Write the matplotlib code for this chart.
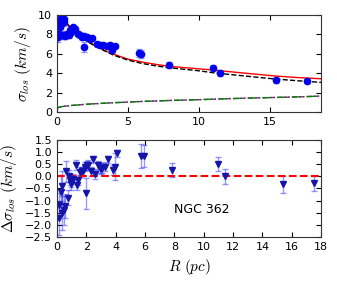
import numpy as np
import matplotlib
matplotlib.use("Agg")
import matplotlib.pyplot as plt

# observed dispersion profile (top panel)
top_r = [0.1, 0.14, 0.21, 0.21, 0.3, 0.4, 0.5, 0.52, 0.56, 0.7, 0.85, 0.92, 1.0, 1.15, 1.3,
         1.5, 1.6, 1.75, 1.92, 1.92, 2.09, 2.32, 2.5, 2.79, 3.03, 3.26, 3.5, 3.73, 3.85, 4.08,
         5.77, 5.9, 7.9, 10.96, 11.48, 15.4, 17.58]
top_s = [7.7, 8.07, 8.76, 9.62, 9.1, 7.9, 9.3, 9.62, 7.8, 8.0, 7.97, 8.4, 8.2, 8.76, 8.6,
         8.07, 7.9, 7.7, 7.83, 6.7, 7.73, 7.56, 7.6, 7.04, 6.87, 6.87, 6.77, 6.87, 6.36, 6.77,
         6.05, 6.0, 4.85, 4.57, 4.05, 3.3, 3.2]
top_e = [0.5, 0.5, 0.5, 0.4, 0.4, 0.4, 0.4, 0.35, 0.3, 0.3, 0.3, 0.3, 0.3, 0.25, 0.25,
         0.25, 0.25, 0.25, 0.25, 0.5, 0.25, 0.25, 0.25, 0.2, 0.2, 0.2, 0.2, 0.2, 0.25, 0.2,
         0.4, 0.4, 0.3, 0.3, 0.3, 0.3, 0.25]

# model curves
mod_r = [0.0, 0.15, 0.3, 0.5, 1.0, 1.5, 2.0, 2.5, 3.0, 3.5, 4.0, 5.0, 6.0, 7.0, 8.0,
         10.0, 11.0, 12.0, 14.0, 15.4, 17.0, 18.6]
red_s = [9.0, 9.4, 9.65, 9.45, 8.65, 8.0, 7.45, 7.0, 6.6, 6.25, 5.95, 5.45, 5.15, 4.9, 4.7,
         4.45, 4.33, 4.18, 3.9, 3.71, 3.55, 3.43]
blk_s = [9.0, 9.4, 9.6, 9.4, 8.6, 7.95, 7.4, 6.95, 6.55, 6.2, 5.85, 5.35, 5.0, 4.75, 4.55,
         4.25, 4.05, 3.9, 3.6, 3.4, 3.22, 3.06]
low_s = [0.38, 0.5, 0.55, 0.6, 0.68, 0.74, 0.8, 0.85, 0.89, 0.93, 0.97, 1.03, 1.1, 1.15, 1.2,
         1.28, 1.33, 1.38, 1.46, 1.51, 1.57, 1.65]

# residuals (bottom panel)
bot_r = [0.16, 0.16, 0.27, 0.36, 0.34, 0.45, 0.54, 0.59, 0.77, 0.82, 0.88, 0.95, 0.95, 1.1,
         1.29, 1.38, 1.45, 1.56, 1.7, 1.8, 1.9, 1.95, 2.05, 2.1, 2.3, 2.43, 2.6, 2.8, 2.9,
         3.0, 3.1, 3.3, 3.5, 3.8, 3.95, 4.06, 5.76, 5.9, 7.87, 10.98, 11.43, 15.4, 17.5]
bot_d = [-1.18, -1.73, -0.63, -0.4, -1.52, -1.4, -1.22, 0.2, -0.88, 0.0, -0.15, -0.33, -0.23,
         -0.1, 0.47, -0.35, -0.15, 0.19, 0.2, 0.2, 0.4, -0.7, 0.45, 0.47, 0.2, 0.7, 0.1,
         0.45, 0.35, 0.3, 0.35, 0.4, 0.7, 0.25, 0.4, 0.95, 0.84, 0.84, 0.26, 0.5, 0.0,
         -0.33, -0.29]
bot_e = [0.5, 0.7, 0.7, 0.6, 0.7, 0.6, 0.5, 0.45, 0.3, 0.25, 0.2, 0.25, 0.2, 0.2,
         0.2, 0.2, 0.2, 0.2, 0.2, 0.2, 0.2, 0.65, 0.2, 0.2, 0.2, 0.15, 0.2, 0.2, 0.2,
         0.2, 0.2, 0.2, 0.15, 0.2, 0.55, 0.15, 0.5, 0.45, 0.3, 0.3, 0.3, 0.35, 0.3]

plt.rcParams['font.size'] = 8
plt.rcParams['mathtext.fontset'] = 'cm'
plt.rcParams['xtick.direction'] = 'in'
plt.rcParams['ytick.direction'] = 'in'
plt.rcParams['xtick.top'] = True
plt.rcParams['ytick.right'] = True

fig = plt.figure(figsize=(3.37, 2.81), dpi=100)
ax1 = fig.add_axes([0.169, 0.601, 0.784, 0.346])
ax2 = fig.add_axes([0.169, 0.157, 0.784, 0.345])

ax1.errorbar(top_r, top_s, yerr=top_e, fmt='o', color='#0000ee', ms=4.5,
             ecolor=(0.2, 0.2, 1.0, 0.5), elinewidth=1, capsize=2)
ax1.plot(mod_r, red_s, 'r-', lw=1)
ax1.plot(mod_r, blk_s, 'k--', lw=1)
ax1.plot(mod_r, low_s, '--', color='m', lw=1)
ax1.plot(mod_r, low_s, '-.', color='g', lw=1)
ax1.set_xlim(0, 18.6)
ax1.set_ylim(0, 10)
ax1.set_xticks([0, 5, 10, 15])
ax1.set_yticks([0, 2, 4, 6, 8, 10])
ax1.set_ylabel(r'$\sigma_{los}\ (km/s)$', fontsize=11)

ax2.errorbar(bot_r, bot_d, yerr=bot_e, fmt='v', color='#1515aa', ms=4,
             ecolor=(0.2, 0.2, 1.0, 0.5), elinewidth=1, capsize=2)
ax2.axhline(0, color='r', ls='--', lw=1.5)
ax2.set_xlim(0, 18)
ax2.set_ylim(-2.5, 1.5)
ax2.set_xticks(np.arange(0, 19, 2))
ax2.set_yticks(np.arange(-2.5, 1.6, 0.5))
ax2.set_ylabel(r'$\Delta\sigma_{los}\ (km/s)$', fontsize=11)
ax2.set_xlabel(r'$R\ (pc)$', fontsize=11)
ax2.text(8, -1.35, 'NGC 362', fontsize=9, va='center')

for ax in (ax1, ax2):
    for s in ax.spines.values():
        s.set_color('#333333')

fig.savefig("out.png", dpi=100)
